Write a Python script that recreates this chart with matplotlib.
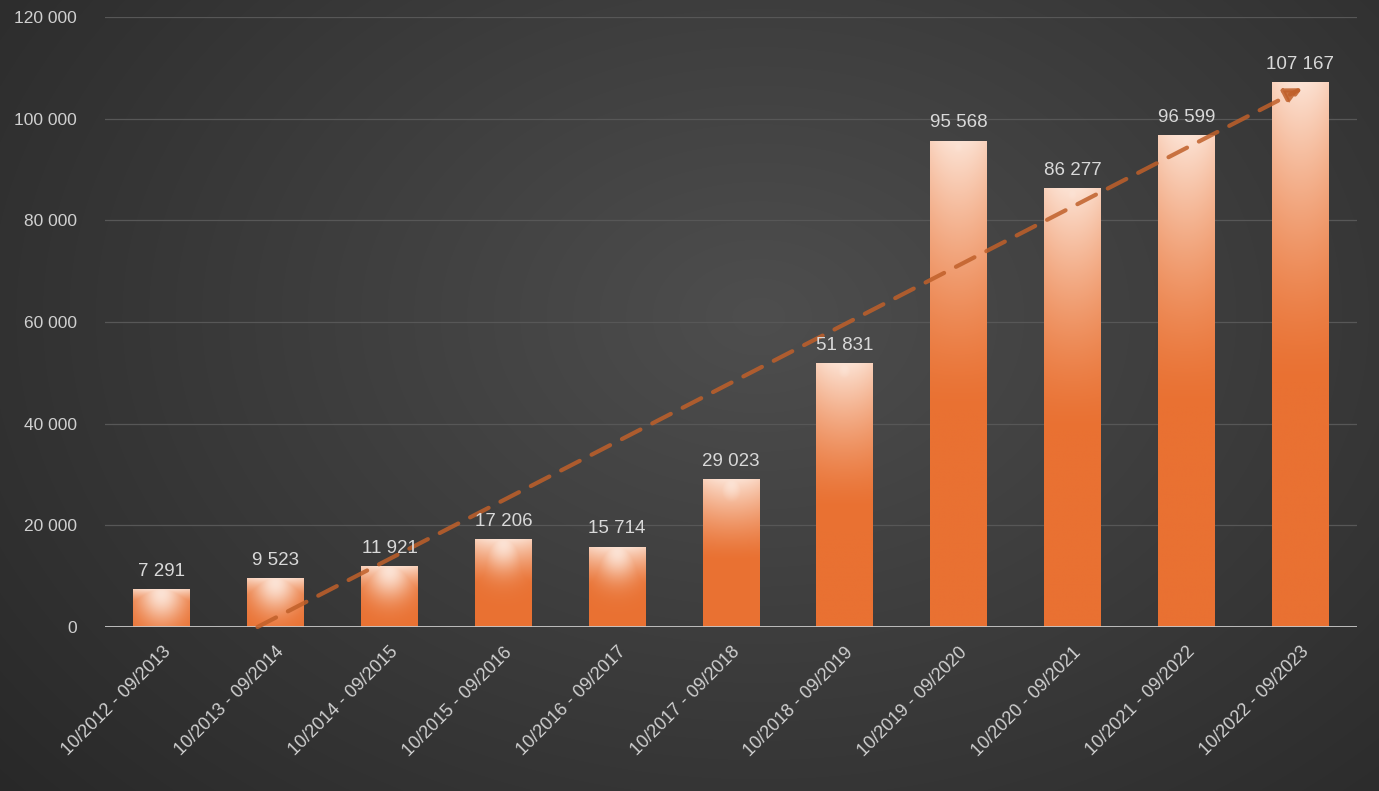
import numpy as np
import matplotlib
matplotlib.use("Agg")
import matplotlib.pyplot as plt
from matplotlib.colors import to_rgb

categories = ["10/2012 - 09/2013", "10/2013 - 09/2014", "10/2014 - 09/2015",
              "10/2015 - 09/2016", "10/2016 - 09/2017", "10/2017 - 09/2018",
              "10/2018 - 09/2019", "10/2019 - 09/2020", "10/2020 - 09/2021",
              "10/2021 - 09/2022", "10/2022 - 09/2023"]
values = [7291, 9523, 11921, 17206, 15714, 29023, 51831, 95568, 86277, 96599, 107167]
value_labels = ["7 291", "9 523", "11 921", "17 206", "15 714", "29 023",
                "51 831", "95 568", "86 277", "96 599", "107 167"]
yticks = [0, 20000, 40000, 60000, 80000, 100000, 120000]
ytick_labels = ["0", "20 000", "40 000", "60 000", "80 000", "100 000", "120 000"]
trend_start = (0.84, 0)
trend_end = (10.02, 106000)

W, H = 1379, 791
fig = plt.figure(figsize=(W / 100, H / 100), dpi=100)

# background radial gradient
bg = fig.add_axes([0, 0, 1, 1], zorder=0)
yy, xx = np.mgrid[0:H, 0:W]
cx, cy = 0.55 * W, 0.40 * H
r = np.sqrt(((xx - cx) / (0.75 * W)) ** 2 + ((yy - cy) / (0.95 * H)) ** 2)
r = np.clip(r, 0, 1)
c_in = np.array(to_rgb("#4e4e4e"))
c_out = np.array(to_rgb("#272727"))
img = c_in[None, None, :] * (1 - r[..., None]) + c_out[None, None, :] * r[..., None]
bg.imshow(img, extent=[0, 1, 0, 1], aspect="auto", origin="upper")
bg.axis("off")

ax = fig.add_axes([105 / W, 1 - 627 / H, (1357 - 105) / W, (627 - 17) / H], zorder=1)
ax.patch.set_alpha(0)
x = np.arange(len(categories))

for yv in yticks[1:]:
    ax.axhline(yv, color="#575757", lw=0.9, zorder=1)
ax.axhline(0, color="#c8c8c8", lw=1.3, zorder=4)

orange = np.array(to_rgb("#e97132"))
light = np.array(to_rgb("#fde8dc"))
bw = 0.5
bars = ax.bar(x, values, width=bw, color="none", zorder=2)
n_v, n_u = 400, 60
for xi, v in zip(x, values):
    t = np.linspace(1, 0, n_v)[:, None]
    u = np.linspace(-1, 1, n_u)[None, :]
    frac = np.clip((t - 0.45) / 0.55, 0, 1) ** 1.4
    hw = 1 - 0.15 * u ** 2
    d = (1 - t) * v
    rad = 0.95 * np.exp(-((u / 0.85) ** 2 + ((d - 800) / 5500) ** 2))
    w = np.clip(np.maximum(frac * hw * 0.95, rad), 0, 1)
    im = orange[None, None, :] * (1 - w[..., None]) + light[None, None, :] * w[..., None]
    ax.imshow(im, extent=[xi - bw / 2, xi + bw / 2, 0, v], aspect="auto",
              origin="upper", zorder=2, interpolation="bilinear")

ax.set_xlim(-0.5, len(categories) - 0.5)
ax.set_ylim(0, 120000)

for xi, v, lab in zip(x, values, value_labels):
    ax.annotate(lab, (xi, v), xytext=(0, 7), textcoords="offset points",
                ha="center", va="bottom", color="#d9d9d9", fontsize=13.5,
                family="Liberation Sans", zorder=6)

ax.annotate("", xy=trend_end, xytext=trend_start,
            arrowprops=dict(arrowstyle="-|>,head_length=1.0,head_width=0.5",
                            color="#c0602a", alpha=0.85, lw=3,
                            linestyle=(0, (5, 3.2)),
                            shrinkA=0, shrinkB=0), zorder=5)

ax.set_xticks(x)
ax.set_xticklabels(categories, rotation=45, ha="right", rotation_mode="anchor",
                   color="#d0d0d0", fontsize=13, family="Liberation Sans")
ax.set_yticks(yticks)
ax.set_yticklabels(ytick_labels, color="#d0d0d0", fontsize=12.5, family="Liberation Sans")
ax.tick_params(axis="both", length=0)
ax.tick_params(axis="y", pad=20)
ax.tick_params(axis="x", pad=12)
for s in ax.spines.values():
    s.set_visible(False)

fig.savefig("out.png", dpi=100)
